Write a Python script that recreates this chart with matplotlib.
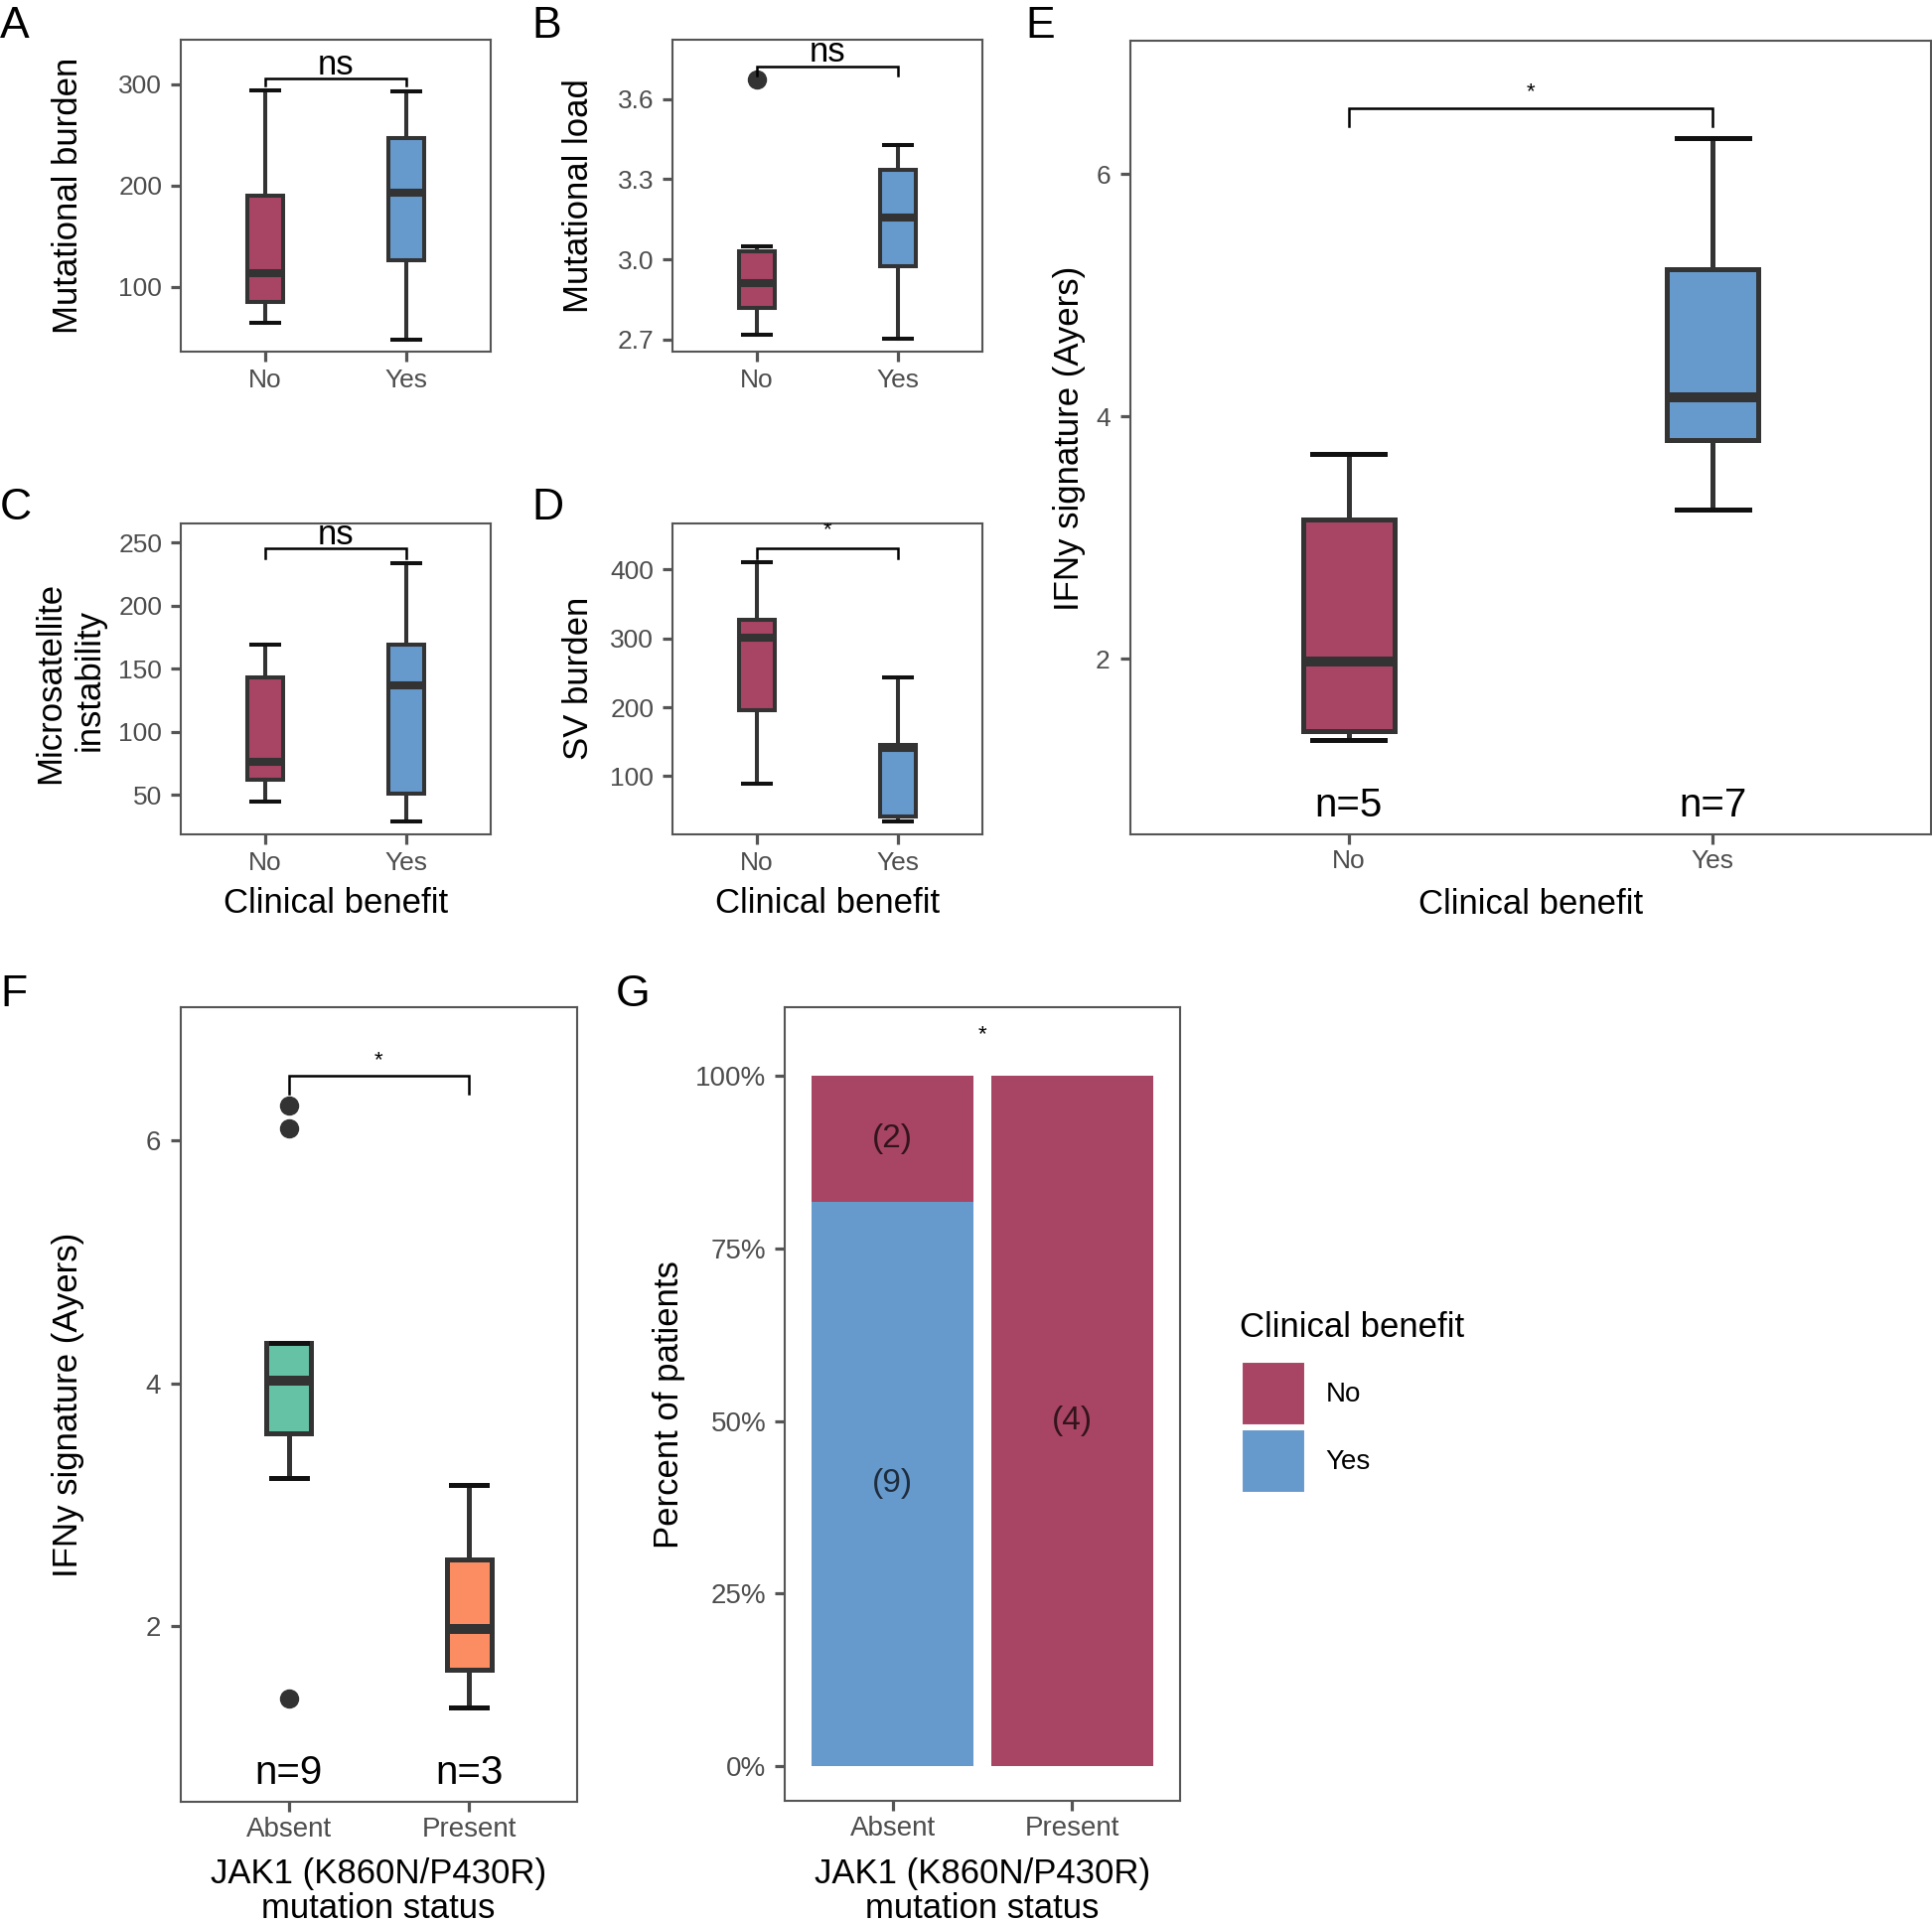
import matplotlib
matplotlib.use("Agg")
import matplotlib.pyplot as plt
from matplotlib.patches import Patch

plt.rcParams['font.family'] = ['Liberation Sans', 'DejaVu Sans']

W, H = 1945, 1935
DPI = 100

# ---- data ----
groups = ["No", "Yes"]
jak_groups = ["Absent", "Present"]

# box stats: [lower whisker, q1, median, q3, upper whisker]
mut_burden_no = [64.7, 85.3, 113.7, 190.5, 294.0]
mut_burden_yes = [48.4, 126.8, 192.8, 246.8, 292.8]
mut_load_no = [2.719, 2.818, 2.911, 3.029, 3.050]
mut_load_yes = [2.703, 2.975, 3.155, 3.335, 3.428]
mut_load_no_outliers = [3.674]
msi_no = [44.7, 61.8, 76.4, 142.9, 169.2]
msi_yes = [29.0, 50.8, 137.0, 169.2, 234.0]
sv_no = [88.9, 196.0, 300.5, 327.0, 410.5]
sv_yes = [34.5, 41.7, 140.4, 145.0, 244.0]
ifng_no = [1.332, 1.405, 1.975, 3.152, 3.692]
ifng_yes = [3.230, 3.804, 4.158, 5.215, 6.294]
ifng_absent = [3.224, 3.590, 4.025, 4.330, 4.330]
ifng_absent_outliers = [6.286, 6.098, 1.403]
ifng_present = [1.327, 1.643, 1.975, 2.551, 3.159]

n_benefit = [5, 7]
n_jak = [9, 3]

# stacked bar counts (panel G)
benefit_yes_counts = [9, 0]
benefit_no_counts = [2, 4]

NO_COL = "#A84464"
YES_COL = "#6699CC"
ABSENT_COL = "#66C2A5"
PRESENT_COL = "#FC8D62"
LINE = "#333333"
AXCOL = "#555555"
TXTCOL = "#4D4D4D"

fig = plt.figure(figsize=(W / DPI, H / DPI), dpi=DPI)


def px_axes(x0, y0, x1, y1):
    return fig.add_axes([x0 / W, 1 - y1 / H, (x1 - x0) / W, (y1 - y0) / H])


def ftext(x, y, s, **kw):
    return fig.text(x / W, 1 - y / H, s, **kw)


def style(ax, tick_size, xpad, ypad):
    for sp in ax.spines.values():
        sp.set_color(AXCOL)
        sp.set_linewidth(1.5)
    ax.tick_params(length=7.5, width=2.3, color=AXCOL, labelcolor=TXTCOL,
                   labelsize=tick_size)
    ax.tick_params(axis='x', pad=xpad)
    ax.tick_params(axis='y', pad=ypad)


def boxes(ax, stats, outliers, colors, lw):
    bstats = []
    for s, f in zip(stats, outliers):
        bstats.append(dict(whislo=s[0], q1=s[1], med=s[2], q3=s[3], whishi=s[4], fliers=f))
    res = ax.bxp(bstats, positions=[1, 2], widths=0.25, capwidths=0.2, patch_artist=True,
                 boxprops=dict(edgecolor=LINE, linewidth=lw),
                 medianprops=dict(color=LINE, linewidth=lw * 2, solid_capstyle='butt'),
                 whiskerprops=dict(color=LINE, linewidth=lw),
                 capprops=dict(color="#111111", linewidth=lw),
                 flierprops=dict(marker='o', markerfacecolor=LINE, markeredgecolor=LINE,
                                 markersize=13))
    for b, c in zip(res['boxes'], colors):
        b.set_facecolor(c)
    ax.set_xlim(0.4, 2.6)


def bracket(ax, y, tip, label, fs, off, clip=False):
    ax.plot([1, 1, 2, 2], [y - tip, y, y, y - tip], color='black', lw=1.8,
            solid_joinstyle='miter', clip_on=False)
    t = ax.annotate(label, xy=(1.5, y), xytext=(0, off), textcoords='offset points',
                    ha='center', va='baseline', fontsize=fs, annotation_clip=False)
    if clip:
        t.set_clip_on(True)
        t.set_clip_path(ax.patch)


def ylab(x, y, s, fs=25):
    ftext(x, y, s, rotation=90, rotation_mode='anchor', ha='center', va='baseline', fontsize=fs)


def xlab(x, y, s, fs=25):
    ftext(x, y, s, ha='center', va='baseline', fontsize=fs)


# ---- A ----
ax = px_axes(182, 40, 494, 354)
boxes(ax, [mut_burden_no, mut_burden_yes], [[], []], [NO_COL, YES_COL], 2.9)
ax.set_ylim(36.3, 344)
ax.set_yticks([100, 200, 300])
ax.set_xticks([1, 2], groups)
style(ax, 19, 5, 6)
bracket(ax, 305.9, 7, "ns", 25, 3)
ylab(78, 197, "Mutational burden")

# ---- B ----
ax = px_axes(677, 40, 989, 354)
boxes(ax, [mut_load_no, mut_load_yes], [mut_load_no_outliers, []], [NO_COL, YES_COL], 2.9)
ax.set_ylim(2.654, 3.823)
ax.set_yticks([2.7, 3.0, 3.3, 3.6], ["2.7", "3.0", "3.3", "3.6"])
ax.set_xticks([1, 2], groups)
style(ax, 19, 5, 6)
bracket(ax, 3.724, 0.034, "ns", 25, 3)
ylab(591.7, 197, "Mutational load")

# ---- C ----
ax = px_axes(182, 527, 494, 840)
boxes(ax, [msi_no, msi_yes], [[], []], [NO_COL, YES_COL], 2.9)
ax.set_ylim(18.5, 265.2)
ax.set_yticks([50, 100, 150, 200, 250])
ax.set_xticks([1, 2], groups)
style(ax, 19, 5, 6)
bracket(ax, 245.5, 7.5, "ns", 25, 3)
ylab(60, 687, "Microsatellite")
ylab(100, 685, "instability")
xlab(338, 919, "Clinical benefit")

# ---- D ----
ax = px_axes(677, 527, 989, 840)
boxes(ax, [sv_no, sv_yes], [[], []], [NO_COL, YES_COL], 2.9)
ax.set_ylim(15.3, 467)
ax.set_yticks([100, 200, 300, 400])
ax.set_xticks([1, 2], groups)
style(ax, 19, 5, 6)
bracket(ax, 431, 14, "*", 16, 9, clip=True)
ylab(591.7, 683, "SV burden")
xlab(833, 919, "Clinical benefit")

# ---- E ----
ax = px_axes(1138, 41, 1944, 840)
boxes(ax, [ifng_no, ifng_yes], [[], []], [NO_COL, YES_COL], 3.6)
ax.set_ylim(0.553, 7.098)
ax.set_yticks([2, 4, 6])
ax.set_xticks([1, 2], groups)
style(ax, 19, 3, 7)
bracket(ax, 6.54, 0.15, "*", 16, 8)
for i, n in enumerate(n_benefit):
    ax.text(i + 1, 0.70, f"n={n}", ha='center', va='baseline', fontsize=29)
ylab(1086, 441, "IFNy signature (Ayers)")
xlab(1541, 920, "Clinical benefit")

# ---- F ----
ax = px_axes(182, 1014, 581, 1814)
boxes(ax, [ifng_absent, ifng_present], [ifng_absent_outliers, []], [ABSENT_COL, PRESENT_COL], 3.6)
ax.set_ylim(0.553, 7.098)
ax.set_yticks([2, 4, 6])
ax.set_xticks([1, 2], jak_groups)
style(ax, 20, 3, 7)
bracket(ax, 6.535, 0.15, "*", 16, 7)
for i, n in enumerate(n_jak):
    ax.text(i + 1, 0.70, f"n={n}", ha='center', va='baseline', fontsize=29)
ylab(78.5, 1414, "IFNy signature (Ayers)")
xlab(381, 1896, "JAK1 (K860N/P430R)")
xlab(381, 1931, "mutation status")

# ---- G ----
ax = px_axes(790, 1014, 1188, 1813)
tot = [a + b for a, b in zip(benefit_yes_counts, benefit_no_counts)]
yes_p = [a / t for a, t in zip(benefit_yes_counts, tot)]
no_p = [b / t for b, t in zip(benefit_no_counts, tot)]
xs = [1, 2]
ax.bar(xs, yes_p, width=0.9, color=YES_COL)
ax.bar(xs, no_p, bottom=yes_p, width=0.9, color=NO_COL)
for x, yp, np_, yc, nc in zip(xs, yes_p, no_p, benefit_yes_counts, benefit_no_counts):
    if yc > 0:
        ax.text(x, yp / 2, f"({yc})", ha='center', va='center', fontsize=24, color='black', alpha=0.7)
    if nc > 0:
        ax.text(x, yp + np_ / 2, f"({nc})", ha='center', va='center', fontsize=24, color='black', alpha=0.7)
ax.text(1.5, 1.06, "*", ha='center', va='center', fontsize=16)
ax.set_xlim(0.4, 2.6)
ax.set_ylim(-0.051, 1.10)
ax.set_yticks([0, 0.25, 0.5, 0.75, 1.0], ["0%", "25%", "50%", "75%", "100%"])
ax.set_xticks(xs, jak_groups)
style(ax, 20, 3, 6)
ylab(683, 1414, "Percent of patients")
xlab(989, 1896, "JAK1 (K860N/P430R)")
xlab(989, 1931, "mutation status")

# legend: title as its own text, keys below
ftext(1248, 1346, "Clinical benefit", ha='left', va='baseline', fontsize=25)
leg = ax.legend(handles=[Patch(facecolor=NO_COL, edgecolor='white', linewidth=1.5),
                         Patch(facecolor=YES_COL, edgecolor='white', linewidth=1.5)],
                labels=groups, loc='upper left',
                bbox_to_anchor=(1250 / W, 1 - 1371 / H), bbox_transform=fig.transFigure,
                frameon=False, fontsize=20, handlelength=2.3,
                handleheight=3.15, handletextpad=0.75, labelspacing=0.15,
                borderpad=0, borderaxespad=0)

# ---- panel letters ----
for x, y, s in [(0, 38, "A"), (535, 38, "B"), (1032, 38, "E"), (0, 523, "C"),
                (535, 523, "D"), (0, 1013, "F"), (620, 1013, "G")]:
    ftext(x, y, s, ha='left', va='baseline', fontsize=32)

fig.savefig("out.png", dpi=DPI)
